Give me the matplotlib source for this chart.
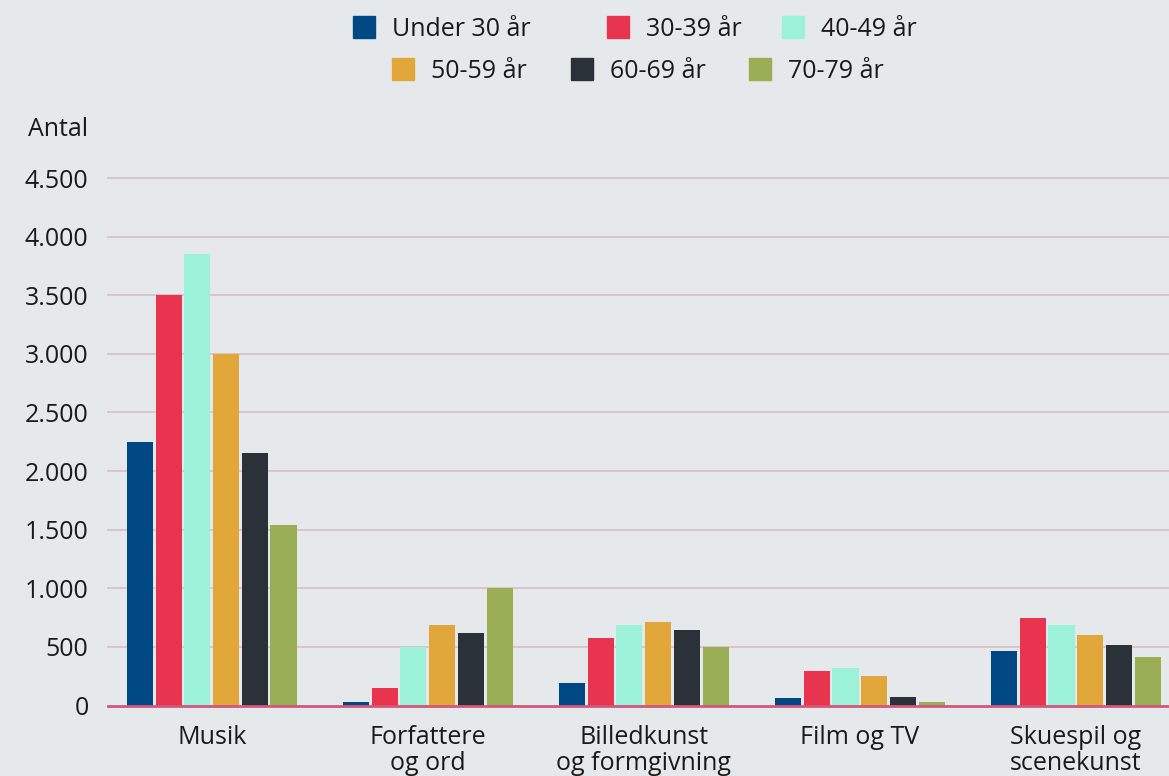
import matplotlib.pyplot as plt
from matplotlib.patches import Rectangle
import numpy as np

categories = ['Musik', 'Forfattere\nog ord', 'Billedkunst\nog formgivning', 'Film og TV', 'Skuespil og\nscenekunst']
groups = ['Under 30 år', '30-39 år', '40-49 år', '50-59 år', '60-69 år', '70-79 år']
under30 = [2250, 30, 190, 65, 465]
age30_39 = [3500, 150, 575, 295, 745]
age40_49 = [3850, 495, 685, 320, 685]
age50_59 = [3000, 685, 710, 250, 600]
age60_69 = [2150, 620, 645, 75, 515]
age70_79 = [1540, 1000, 500, 30, 415]
yticks = [0, 500, 1000, 1500, 2000, 2500, 3000, 3500, 4000, 4500]
ytick_labels = ['0', '500', '1.000', '1.500', '2.000', '2.500', '3.000', '3.500', '4.000', '4.500']

colors = ['#004883', '#e8344e', '#9bf2d9', '#e2a73a', '#2b3138', '#9aaf55']
bg = '#e6e9ec'
txt = '#1a1a1a'
fs = 18
plt.rcParams['font.family'] = ['Open Sans', 'DejaVu Sans']

fig = plt.figure(figsize=(11.69, 7.76), dpi=100, facecolor=bg)
ax = fig.add_axes([108/1169, 1-705.5/776, 1-108/1169, (705.5-178)/776])
ax.set_facecolor(bg)

series = [under30, age30_39, age40_49, age50_59, age60_69, age70_79]
x = np.arange(len(categories))
step = 0.133
w = 0.121
for i, (vals, c) in enumerate(zip(series, colors)):
    ax.bar(x + (i - 2.5) * step, vals, width=w, color=c, zorder=3)

ax.set_ylim(0, 4500)
ax.set_xlim(-0.48, 4.431)
ax.set_yticks(yticks)
ax.set_yticklabels(ytick_labels)
for t in yticks[1:]:
    ax.axhline(t, color='#dcbcc6', linewidth=1.2, zorder=1, clip_on=False)
ax.axhline(0, color='#d2587a', linewidth=2, zorder=4, clip_on=False)
for s in ax.spines.values():
    s.set_visible(False)
ax.tick_params(axis='y', length=0, pad=14, labelsize=fs, labelcolor=txt)
ax.set_xticks(x)
ax.set_xticklabels(categories, fontsize=fs, color=txt, linespacing=1.05)
ax.tick_params(axis='x', length=0, pad=14)

fig.text(88/1169, 1-129/776, 'Antal', ha='right', va='center', fontsize=fs, color=txt)

# legend, two centered rows placed by hand
leg_pos = [(353, 27), (607, 27), (782, 27), (392, 69), (571, 69), (749, 69)]
for (px, py), lab, c in zip(leg_pos, groups, colors):
    fig.patches.append(Rectangle((px/1169, 1-(py+11)/776), 22/1169, 22/776,
                                 transform=fig.transFigure, color=c))
    fig.text((px+39)/1169, 1-(py+2)/776, lab, ha='left', va='center', fontsize=fs, color=txt)

plt.savefig('out.png', dpi=100, facecolor=bg)
